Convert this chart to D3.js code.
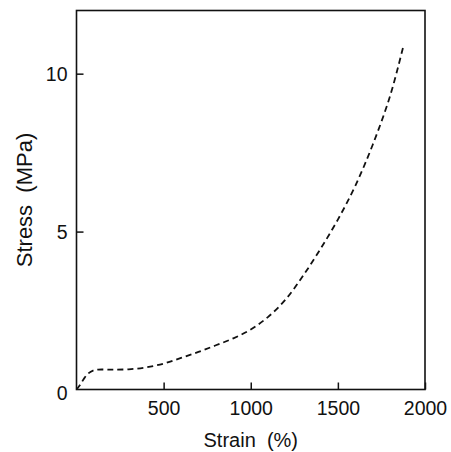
<!DOCTYPE html>
<html>
<head>
<meta charset="utf-8">
<script src="https://cdn.jsdelivr.net/npm/d3@7/dist/d3.min.js"></script>
<style>
  html, body { margin: 0; padding: 0; background: #fff; }
  svg text { font-family: "Liberation Sans", Arial, sans-serif; fill: #111; }
</style>
</head>
<body>
<svg id="chart" width="451" height="452"></svg>
<script>
// Data
const strain = [0, 20, 45, 70, 95, 125, 200, 300, 400, 500, 600, 700, 800, 900, 1000, 1100, 1200, 1300, 1400, 1500, 1600, 1700, 1800, 1878];
const stress = [0, 0.14, 0.36, 0.52, 0.6, 0.63, 0.63, 0.64, 0.7, 0.82, 1.0, 1.19, 1.4, 1.62, 1.9, 2.3, 2.85, 3.6, 4.45, 5.38, 6.45, 7.75, 9.3, 10.92];
const xTicks = [500, 1000, 1500, 2000];
const yTicks = [0, 5, 10];
const xLabel = "Strain  (%)";
const yLabel = "Stress  (MPa)";

const svg = d3.select("#chart");
const mLeft = 76.5, mRight = 425, mTop = 10.5, mBottom = 389.5;

const x = d3.scaleLinear().domain([0, 2000]).range([mLeft, mRight]);
const y = d3.scaleLinear().domain([0, 12]).range([mBottom, mTop]);

// frame
svg.append("rect")
  .attr("x", mLeft).attr("y", mTop)
  .attr("width", mRight - mLeft).attr("height", mBottom - mTop)
  .attr("fill", "none").attr("stroke", "#111").attr("stroke-width", 1.6);

// bottom axis (ticks inward)
const xAxis = d3.axisBottom(x).tickValues(xTicks).tickSize(-7).tickPadding(12).tickFormat(d3.format("d"));
const gx = svg.append("g").attr("transform", `translate(0,${mBottom})`).call(xAxis);
gx.select(".domain").remove();
gx.selectAll("line").attr("stroke", "#111").attr("stroke-width", 1.5);
gx.selectAll("text").attr("font-size", 19.5).attr("dy", "0.71em").attr("fill", "#111");

// left axis (ticks inward)
const yAxis = d3.axisLeft(y).tickValues(yTicks).tickSize(-7).tickPadding(9).tickFormat(d3.format("d"));
const gy = svg.append("g").attr("transform", `translate(${mLeft},0)`).call(yAxis);
gy.select(".domain").remove();
gy.selectAll("line").attr("stroke", "#111").attr("stroke-width", 1.5);
gy.selectAll("text").attr("font-size", 19.5).attr("dy", "0.36em").attr("fill", "#111");
gy.selectAll(".tick").filter(d => d === 0).select("line").remove();
gy.selectAll(".tick").filter(d => d === 0).select("text").attr("dy", "0.5em");

// curve
const pts = strain.map((s, i) => [s, stress[i]]);
const line = d3.line().x(d => x(d[0])).y(d => y(d[1])).curve(d3.curveCatmullRom.alpha(0.5));
svg.append("path")
  .datum(pts)
  .attr("d", line)
  .attr("fill", "none")
  .attr("stroke", "#111")
  .attr("stroke-width", 1.8)
  .attr("stroke-dasharray", "6,4");

// axis titles
svg.append("text")
  .attr("x", (mLeft + mRight) / 2).attr("y", 447)
  .attr("text-anchor", "middle").attr("font-size", 20)
  .style("white-space", "pre")
  .text(xLabel);

svg.append("text")
  .attr("transform", `translate(32,${(mTop + mBottom) / 2}) rotate(-90)`)
  .attr("text-anchor", "middle").attr("font-size", 22)
  .style("white-space", "pre")
  .text(yLabel);
</script>
</body>
</html>
